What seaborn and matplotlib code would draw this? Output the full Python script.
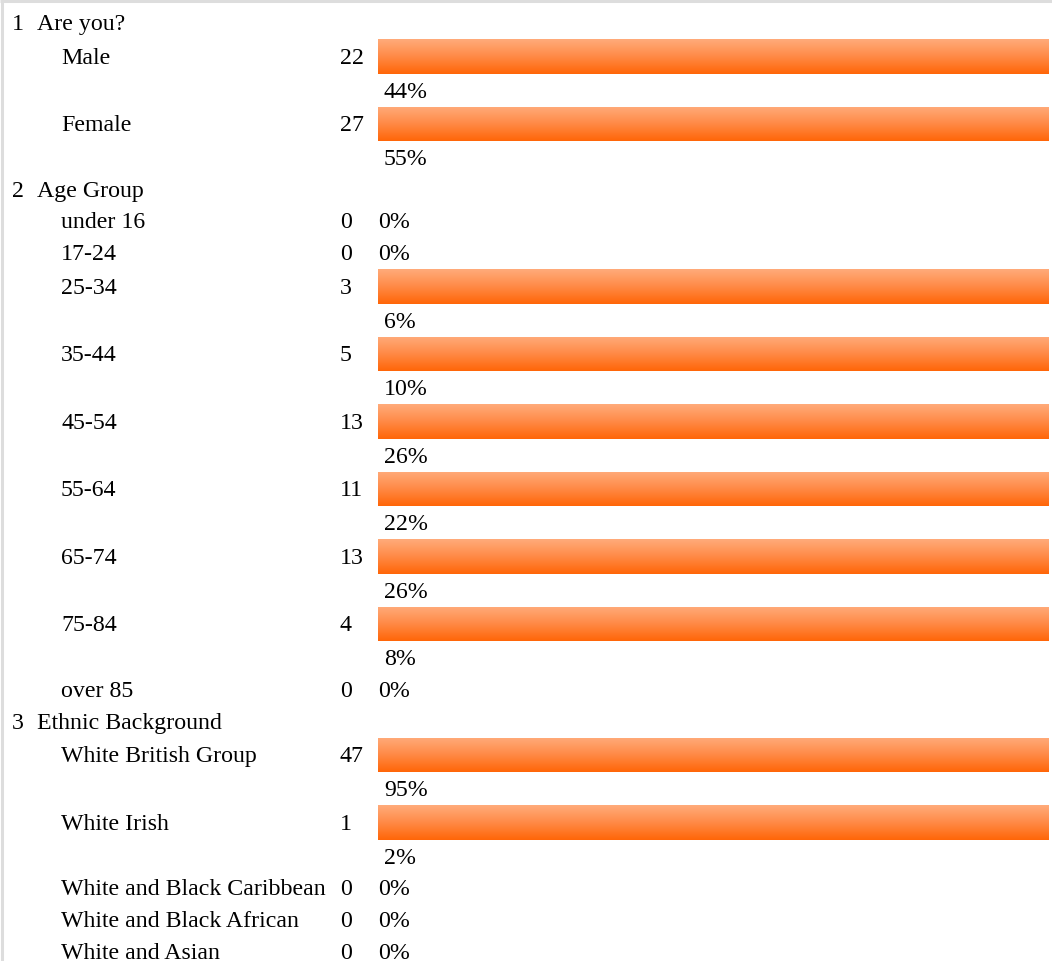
import numpy as np
import pandas as pd
import matplotlib
matplotlib.use("Agg")
import matplotlib.pyplot as plt
import seaborn as sns
from matplotlib import font_manager as fm
from matplotlib.colors import LinearSegmentedColormap

# ---------------- data ----------------
q_numbers = ["1", "2", "3"]
q_titles = ["Are you?", "Age Group", "Ethnic Background"]

q1_labels = ["Male", "Female"]
q1_counts = [22, 27]
q1_pcts = ["44%", "55%"]

q2_labels = ["under 16", "17-24", "25-34", "35-44", "45-54", "55-64", "65-74", "75-84", "over 85"]
q2_counts = [0, 0, 3, 5, 13, 11, 13, 4, 0]
q2_pcts = ["0%", "0%", "6%", "10%", "26%", "22%", "26%", "8%", "0%"]

q3_labels = ["White British Group", "White Irish", "White and Black Caribbean",
             "White and Black African", "White and Asian"]
q3_counts = [47, 1, 0, 0, 0]
q3_pcts = ["95%", "2%", "0%", "0%", "0%"]

questions = [
    (q_numbers[0], q_titles[0], q1_labels, q1_counts, q1_pcts),
    (q_numbers[1], q_titles[1], q2_labels, q2_counts, q2_pcts),
    (q_numbers[2], q_titles[2], q3_labels, q3_counts, q3_pcts),
]

# ---------------- style ----------------
sns.set_theme(style="white")
plt.rcParams["font.family"] = "serif"
plt.rcParams["font.serif"] = ["Liberation Serif", "DejaVu Serif"]
FONT = fm.FontProperties(family=["Liberation Serif", "DejaVu Serif"])

W, H = 1052, 961
FS = 17.2
TEXT_ROW = 31.7
BAR_ROW = 35.8
PCT_ROW = 31.7

fig = plt.figure(figsize=(W / 100, H / 100), dpi=100)
fig.patch.set_facecolor("white")
ax = fig.add_axes([0, 0, 1, 1])
ax.set_xlim(0, W)
ax.set_ylim(H, 0)
ax.axis("off")

BAR_X0, BAR_X1 = 378, 1049
bax = fig.add_axes([BAR_X0 / W, 0, (BAR_X1 - BAR_X0) / W, 1])
bax.set_xlim(0, 1)
bax.set_ylim(H, 0)
bax.axis("off")

# border lines (page frame)
ax.plot([0, W], [1, 1], color="#dddddd", lw=2.2, solid_capstyle="butt")
ax.plot([2, 2], [0, H], color="#dddddd", lw=2.2, solid_capstyle="butt")

# build layout rows
rows = []
y = 6.2
for num, title, labels, counts, pcts in questions:
    rows.append(dict(kind="header", num=num, title=title, y=y + TEXT_ROW / 2))
    y += TEXT_ROW
    for lab, c, p in zip(labels, counts, pcts):
        if c > 0:
            rows.append(dict(kind="bar", label=lab, count=c, pct=p,
                             y=y + BAR_ROW / 2, pct_y=y + BAR_ROW + PCT_ROW / 2))
            y += BAR_ROW + PCT_ROW
        else:
            rows.append(dict(kind="zero", label=lab, count=c, pct=p, y=y + TEXT_ROW / 2))
            y += TEXT_ROW

df = pd.DataFrame([r for r in rows if r["kind"] == "bar"])
# the source renders every non-zero answer as a full-width bar
df["bar_len"] = (df["count"] > 0).astype(float)

bars = bax.barh(df["y"] + 0.5, df["bar_len"], height=34.6, left=0,
                color="none", edgecolor="none", align="center")

grad = np.linspace(0, 1, 64).reshape(-1, 1)
cmap = LinearSegmentedColormap.from_list("og", ["#ffab7a", "#ff8a46", "#ff6608"])
for b in bars:
    x0, yb = b.get_x(), b.get_y()
    w, h = b.get_width(), b.get_height()
    im = bax.imshow(grad, cmap=cmap, aspect="auto",
                    extent=[x0, x0 + w, yb + h, yb], zorder=2, interpolation="bilinear")
    im.set_clip_path(b)

dy = 2.5
kw = dict(fontproperties=FONT, fontsize=FS, va="center", ha="left", color="black")
for r in rows:
    if r["kind"] == "header":
        ax.text(12, r["y"] + dy, r["num"], **kw)
        ax.text(37, r["y"] + dy, r["title"], **kw)
    else:
        ax.text(61, r["y"] + dy, r["label"], **kw)
        ax.text(340, r["y"] + dy, str(r["count"]), **kw)
        if r["kind"] == "zero":
            ax.text(378, r["y"] + dy, r["pct"], **kw)
        else:
            ax.text(384, r["pct_y"] + dy, r["pct"], **kw)

fig.savefig("out.png", dpi=100, facecolor="white")
